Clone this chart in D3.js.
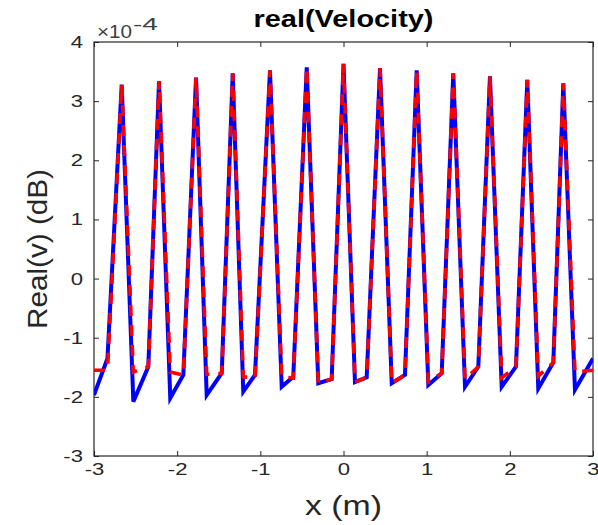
<!DOCTYPE html>
<html>
<head>
<meta charset="utf-8">
<script src="https://cdn.jsdelivr.net/npm/d3@7"></script>
<style>
  html, body { margin: 0; padding: 0; background: #fff; }
  svg { display: block; }
  text { font-family: "Liberation Sans", Arial, Helvetica, sans-serif; }
</style>
</head>
<body>
<svg id="chart" width="598" height="525"></svg>
<script>
// ---- data (y values in units of 1e-4) ----
const xValues = [-3.0, -2.838, -2.667, -2.527, -2.347, -2.218, -2.083, -1.926, -1.773, -1.645, -1.464,
  -1.332, -1.205, -1.064, -0.884, -0.743, -0.604, -0.442, -0.303, -0.142, 0.0, 0.138, 0.279,
  0.439, 0.580, 0.739, 0.880, 1.020, 1.181, 1.320, 1.461, 1.621, 1.761, 1.902, 2.074,
  2.210, 2.342, 2.523, 2.643, 2.783, 3.0];
const blueValues = [-1.97, -1.35, 3.28, -2.08, -1.49, 3.34, -2.02, -1.63, 3.40, -1.97, -1.60,
  3.47, -1.91, -1.63, 3.52, -1.83, -1.66, 3.57, -1.77, -1.70, 3.63, -1.75, -1.67,
  3.56, -1.77, -1.63, 3.52, -1.80, -1.60, 3.47, -1.83, -1.49, 3.42, -1.83, -1.49,
  3.36, -1.86, -1.42, 3.30, -1.88, -1.35];
const redValues = [-1.55, -1.55, 3.28, -1.58, -1.49, 3.34, -1.58, -1.63, 3.40, -1.62, -1.60,
  3.47, -1.66, -1.68, 3.52, -1.66, -1.68, 3.57, -1.77, -1.70, 3.63, -1.75, -1.67,
  3.56, -1.77, -1.63, 3.52, -1.75, -1.60, 3.47, -1.70, -1.49, 3.42, -1.68, -1.49,
  3.36, -1.65, -1.42, 3.30, -1.58, -1.55];
const xTicks = [-3, -2, -1, 0, 1, 2, 3];
const yTicks = [-3, -2, -1, 0, 1, 2, 3, 4];

const mLeft = 94, mRight = 593, mTop = 42, mBottom = 456;
const svg = d3.select("#chart");
const x = d3.scaleLinear().domain([-3, 3]).range([mLeft, mRight]);
const y = d3.scaleLinear().domain([-3, 4]).range([mBottom, mTop]);

const axisColor = "#262626";
const tickLen = 5;
const fmt = d => String(d);

// widen a text element horizontally by factor k (keeps anchor)
function widen(sel, k) {
  sel.each(function () {
    const len = this.getComputedTextLength();
    d3.select(this).attr("textLength", len * k).attr("lengthAdjust", "spacingAndGlyphs");
  });
}

function styleAxis(g, showLabels) {
  g.select(".domain").remove();
  g.selectAll(".tick line").attr("stroke", axisColor).attr("stroke-width", 1);
  g.selectAll(".tick text").attr("fill", axisColor).style("font-size", "17px")
    .style("font-family", "'Liberation Sans', Arial, sans-serif");
  if (!showLabels) g.selectAll(".tick text").remove();
  else widen(g.selectAll(".tick text"), 1.3);
}

svg.append("g").attr("transform", `translate(0,${mBottom})`)
  .call(d3.axisBottom(x).tickValues(xTicks).tickSize(-tickLen).tickPadding(7).tickFormat(fmt))
  .call(g => styleAxis(g, true));
svg.append("g").attr("transform", `translate(0,${mTop})`)
  .call(d3.axisTop(x).tickValues(xTicks).tickSize(-tickLen))
  .call(g => styleAxis(g, false));
svg.append("g").attr("transform", `translate(${mLeft},0)`)
  .call(d3.axisLeft(y).tickValues(yTicks).tickSize(-tickLen).tickPadding(11).tickFormat(fmt))
  .call(g => styleAxis(g, true));
svg.append("g").attr("transform", `translate(${mRight},0)`)
  .call(d3.axisRight(y).tickValues(yTicks).tickSize(-tickLen))
  .call(g => styleAxis(g, false));

// box
svg.append("rect").attr("x", mLeft).attr("y", mTop)
  .attr("width", mRight - mLeft).attr("height", mBottom - mTop)
  .attr("fill", "none").attr("stroke", axisColor).attr("stroke-width", 1.2);

const pts = (vals) => xValues.map((d, i) => [d, vals[i]]);
const line = d3.line().x(d => x(d[0])).y(d => y(d[1]));

svg.append("clipPath").attr("id", "plotclip").append("rect")
  .attr("x", mLeft).attr("y", mTop).attr("width", mRight - mLeft).attr("height", mBottom - mTop);

const plot = svg.append("g").attr("clip-path", "url(#plotclip)");
plot.append("path").datum(pts(blueValues)).attr("d", line)
  .attr("fill", "none").attr("stroke", "#0000ff").attr("stroke-width", 4)
  .attr("stroke-linejoin", "miter");
plot.append("path").datum(pts(redValues)).attr("d", line)
  .attr("fill", "none").attr("stroke", "#ff0000").attr("stroke-width", 3.6)
  .attr("stroke-dasharray", "11,9").attr("stroke-linejoin", "miter");

// exponent label
svg.append("text").attr("x", mLeft + 3).attr("y", 38)
  .attr("fill", "#404040").style("font-size", "18px")
  .attr("textLength", 35).attr("lengthAdjust", "spacingAndGlyphs").text("×10");
svg.append("text").attr("x", mLeft + 39).attr("y", 30)
  .attr("fill", "#404040").style("font-size", "17px")
  .attr("textLength", 25).attr("lengthAdjust", "spacingAndGlyphs").text("-4");

// title
svg.append("text").attr("x", (mLeft + mRight) / 2).attr("y", 27)
  .attr("text-anchor", "middle").attr("fill", "#000")
  .style("font-size", "23px").style("font-weight", "bold")
  .attr("textLength", 180).attr("lengthAdjust", "spacingAndGlyphs").text("real(Velocity)");

// axis labels
svg.append("text").attr("x", (mLeft + mRight) / 2).attr("y", 515)
  .attr("text-anchor", "middle").attr("fill", axisColor)
  .style("font-size", "28px")
  .attr("textLength", 77).attr("lengthAdjust", "spacingAndGlyphs").text("x (m)");
svg.append("text").attr("transform", `translate(47,${(mTop + mBottom) / 2}) rotate(-90)`)
  .attr("text-anchor", "middle").attr("fill", axisColor)
  .style("font-size", "28px")
  .attr("textLength", 160).attr("lengthAdjust", "spacingAndGlyphs").text("Real(v) (dB)");
</script>
</body>
</html>
